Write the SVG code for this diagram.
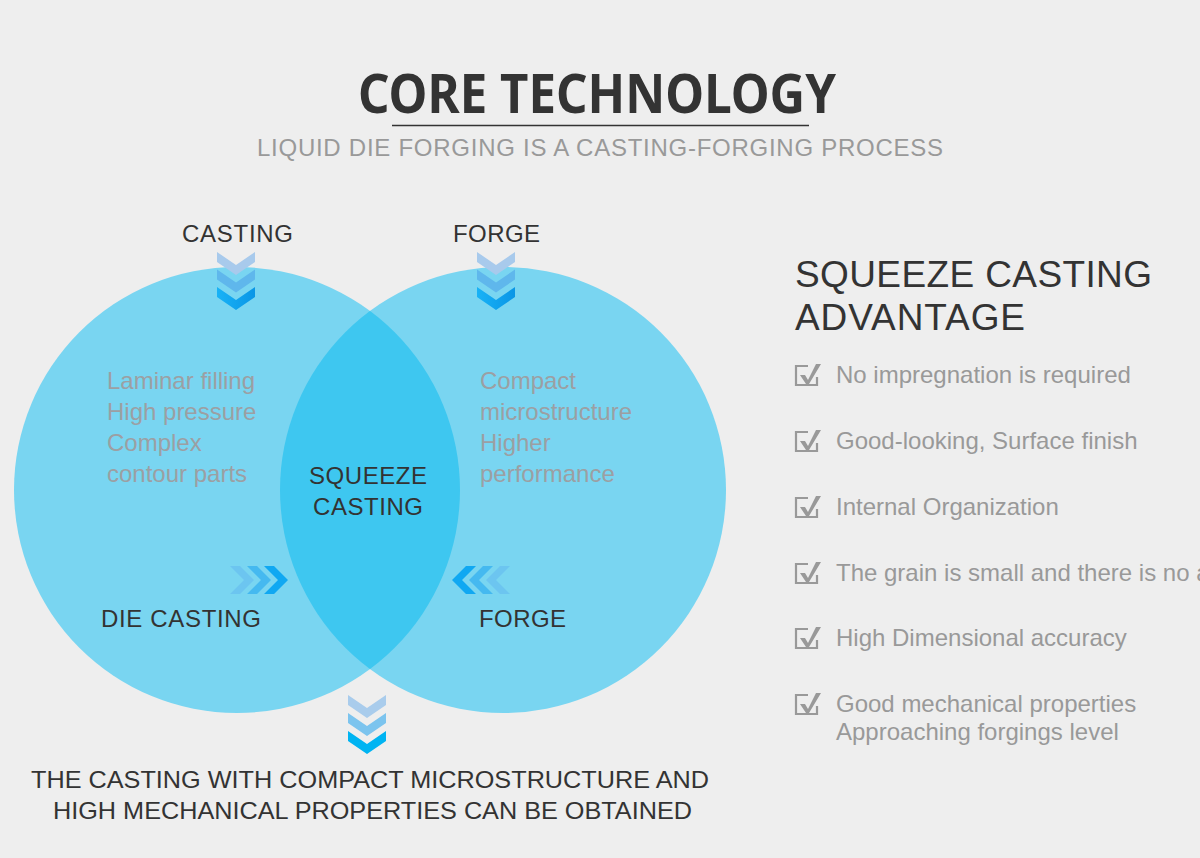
<svg xmlns="http://www.w3.org/2000/svg" width="1200" height="858" viewBox="0 0 1200 858">
<defs>
<style>
.sans{font-family:"Liberation Sans",Arial,sans-serif}
.dark{fill:#333333}
.gray{fill:#999999}
.cg{fill:#9c9fa3}
.lbl{font-size:24px;letter-spacing:1px}
.li{font-size:24px;fill:#999999}
.chk{fill:none;stroke:#999999;stroke-width:2.2}
</style>
<clipPath id="clipL"><circle cx="237" cy="490" r="223"/></clipPath>
<linearGradient id="gDown" x1="0" y1="0" x2="1" y2="0"><stop offset="0" stop-color="#18b2f6"/><stop offset="1" stop-color="#0a96e6"/></linearGradient>
<polygon id="dch" points="0,0 19,13 38,0 38,10 19,23 0,10"/>
<polygon id="rch" points="0,0 10,0 24,14 10,28 0,28 14,14"/>
<polygon id="lch" points="0,14 14,0 24,0 10,14 24,28 14,28"/>
<g id="box"><path class="chk" d="M 808 -17 L 796 -17 L 796 2 L 817 2 L 817 -6"/><path d="M 800 -8 L 805 -8 L 808 -3 L 816 -19 L 821 -19 L 809 1 L 806 1 Z" fill="#999999"/></g>
</defs>
<rect x="0" y="0" width="1200" height="858" fill="#eeeeee"/>

<g id="header">
<text x="597" y="113" text-anchor="middle" font-family="'Noto Sans',sans-serif" font-weight="bold" font-size="53" fill="#333333" textLength="478" lengthAdjust="spacingAndGlyphs">CORE TECHNOLOGY</text>
<line x1="392" y1="125.5" x2="809" y2="125.5" stroke="#333333" stroke-width="1.5"/>
<text class="sans gray" x="600" y="156" text-anchor="middle" font-size="24" textLength="686" lengthAdjust="spacing">LIQUID DIE FORGING IS A CASTING-FORGING PROCESS</text>
</g>

<g id="venn">
<circle cx="237" cy="490" r="223" fill="#79d5f1"/>
<circle cx="503" cy="490" r="223" fill="#79d5f1"/>
<circle cx="503" cy="490" r="223" fill="#3ec7f0" clip-path="url(#clipL)"/>
</g>

<g id="casting">
<text class="sans dark" x="182" y="242" font-size="24" textLength="111" lengthAdjust="spacing">CASTING</text>
</g>
<g id="forge-top">
<text class="sans dark" x="453" y="242" font-size="24" textLength="87" lengthAdjust="spacing">FORGE</text>
</g>

<g id="connectors">
<use href="#dch" x="217" y="252" fill="#a8caec"/>
<use href="#dch" x="217" y="269.5" fill="#5fb7ec"/>
<use href="#dch" x="217" y="287" fill="url(#gDown)"/>
<use href="#dch" x="477" y="252" fill="#a8caec"/>
<use href="#dch" x="477" y="269.5" fill="#5fb7ec"/>
<use href="#dch" x="477" y="287" fill="url(#gDown)"/>
<use href="#rch" x="230" y="566" fill="#6cc5f0"/>
<use href="#rch" x="247" y="566" fill="#45b9f0"/>
<use href="#rch" x="264" y="566" fill="#10a8f2"/>
<use href="#lch" x="452" y="566" fill="#10a8f2"/>
<use href="#lch" x="469" y="566" fill="#45b9f0"/>
<use href="#lch" x="486" y="566" fill="#6cc5f0"/>
<use href="#dch" x="348" y="695" fill="#a9ccec"/>
<use href="#dch" x="348" y="713" fill="#7cc4ee"/>
<use href="#dch" x="348" y="731" fill="#00b4f2"/>
</g>

<g id="left-text" class="sans cg" font-size="24">
<text x="107" y="389">Laminar filling</text>
<text x="107" y="420">High pressure</text>
<text x="107" y="451">Complex</text>
<text x="107" y="482">contour parts</text>
</g>
<g id="right-text" class="sans cg" font-size="24">
<text x="480" y="389">Compact</text>
<text x="480" y="420">microstructure</text>
<text x="480" y="451">Higher</text>
<text x="480" y="482">performance</text>
</g>
<g id="squeeze">
<text class="sans dark" x="309" y="484" font-size="24" textLength="118" lengthAdjust="spacing">SQUEEZE</text>
<text class="sans dark" x="313" y="515" font-size="24" textLength="110" lengthAdjust="spacing">CASTING</text>
</g>
<g id="die-casting">
<text class="sans dark" x="101" y="627" font-size="24" textLength="160" lengthAdjust="spacing">DIE CASTING</text>
</g>
<g id="forge-bottom">
<text class="sans dark" x="479" y="627" font-size="24" textLength="87" lengthAdjust="spacing">FORGE</text>
</g>

<g id="result">
<text class="sans dark" x="31" y="788" font-size="24" textLength="678" lengthAdjust="spacingAndGlyphs">THE CASTING WITH COMPACT MICROSTRUCTURE AND</text>
<text class="sans dark" x="53" y="819" font-size="24" textLength="639" lengthAdjust="spacingAndGlyphs">HIGH MECHANICAL PROPERTIES CAN BE OBTAINED</text>
</g>

<g id="advantage">
<text class="sans dark" x="795" y="287" font-size="37" textLength="357" lengthAdjust="spacing">SQUEEZE CASTING</text>
<text class="sans dark" x="795" y="330" font-size="37" textLength="230" lengthAdjust="spacing">ADVANTAGE</text>
</g>

<g id="list" class="sans">
<g id="item1"><use href="#box" y="383"/><text class="li" x="836" y="383">No impregnation is required</text></g>
<g id="item2"><use href="#box" y="449"/><text class="li" x="836" y="449">Good-looking, Surface finish</text></g>
<g id="item3"><use href="#box" y="515"/><text class="li" x="836" y="515">Internal Organization</text></g>
<g id="item4"><use href="#box" y="581"/><text class="li" x="836" y="581">The grain is small and there is no a</text></g>
<g id="item5"><use href="#box" y="646"/><text class="li" x="836" y="646">High Dimensional accuracy</text></g>
<g id="item6"><use href="#box" y="712"/><text class="li" x="836" y="712">Good mechanical properties</text><text class="li" x="836" y="740">Approaching forgings level</text></g>
</g>
</svg>
